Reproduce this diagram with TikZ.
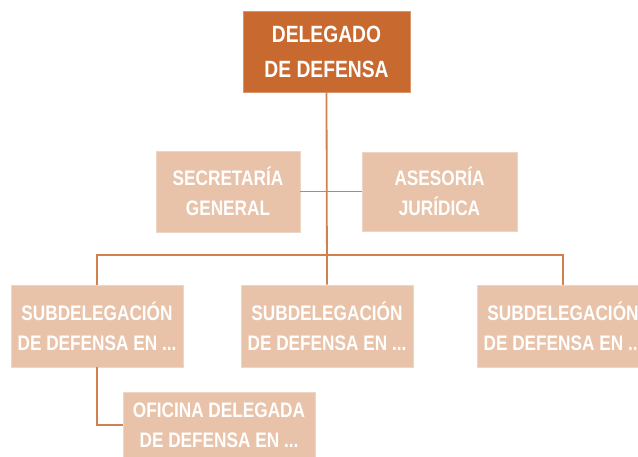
\documentclass[tikz,border=0pt]{standalone}
\usepackage{fontspec}
\setmainfont{Liberation Sans}[FakeStretch=0.82]
\usetikzlibrary{positioning}
\definecolor{boxdark}{HTML}{C8692F}
\definecolor{boxlight}{HTML}{E8C3A9}
\definecolor{linkcol}{HTML}{D0814F}

\begin{document}
\begin{tikzpicture}[x=1pt, y=-1pt, line width=1.8pt,
    unit/.style={fill=boxlight, draw=boxlight!70!white, line width=.6pt, text=white, font=\bfseries\fontsize{21}{30}\selectfont, align=center, inner sep=0pt},
    head/.style={unit, fill=boxdark, draw=boxdark!70!white, font=\bfseries\fontsize{23.5}{35}\selectfont}]
    \useasboundingbox (0,0) rectangle (638,456);
    \clip (0,0) rectangle (638,456);
    % boxes
    \node[head, minimum width=167pt, minimum height=81pt] (del) at (326.5,51.5) {DELEGADO\\DE DEFENSA};
    \node[unit, minimum width=144pt, minimum height=81pt] (sec) at (228,191.5) {SECRETAR\'IA\\GENERAL};
    \node[unit, minimum width=155pt, minimum height=79pt] (ase) at (439.5,191.5) {ASESOR\'IA\\JUR\'IDICA};
    \foreach \x/\name in {97/subA,327/subB,563/subC}
      \node[unit, minimum width=172pt, minimum height=82pt] (\name) at (\x,326) {SUBDELEGACI\'ON\\DE DEFENSA EN ...};
    \node[unit, minimum width=192pt, minimum height=66pt] (ofi) at (219,425) {OFICINA DELEGADA\\DE DEFENSA EN ...};
    \coordinate (bus) at (327,255);
    % links
    \draw[linkcol] (del.south) -- (subB.north);
    \draw[linkcol] (sec.east) -- (ase.west);
    \draw[linkcol] (subA.north) |- (bus) -| (subC.north);
    \draw[linkcol] (subA.south) |- (ofi.west);
\end{tikzpicture}
\end{document}
